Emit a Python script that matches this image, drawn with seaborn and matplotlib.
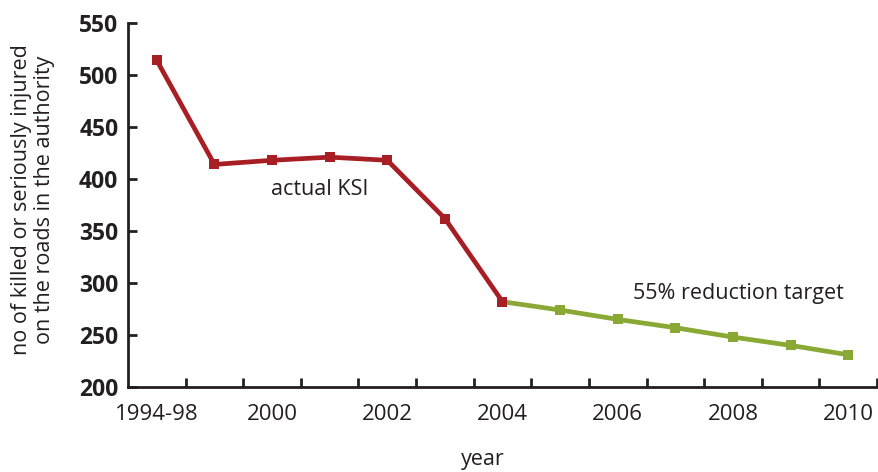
import matplotlib
matplotlib.use("Agg")
import matplotlib.pyplot as plt
import seaborn as sns
import pandas as pd
from matplotlib.ticker import FixedLocator

sns.set_theme(style="white")
plt.rcParams['font.family'] = ['Open Sans', 'DejaVu Sans']

categories = ["1994-98", "1999", "2000", "2001", "2002", "2003", "2004",
              "2005", "2006", "2007", "2008", "2009", "2010"]
actual_cats = ["1994-98", "1999", "2000", "2001", "2002", "2003", "2004"]
actual_vals = [514, 414, 418, 421, 418, 362, 282]
target_cats = ["2004", "2005", "2006", "2007", "2008", "2009", "2010"]
target_vals = [282, 274, 265, 257, 248, 240, 231]
shown_labels = ["1994-98", "2000", "2002", "2004", "2006", "2008", "2010"]
yticks = [200, 250, 300, 350, 400, 450, 500, 550]

RED = "#a81e25"
GREEN = "#8aa834"
INK = "#231f20"

pos = {c: i for i, c in enumerate(categories)}
df_a = pd.DataFrame({"x": [pos[c] for c in actual_cats], "y": actual_vals})
df_t = pd.DataFrame({"x": [pos[c] for c in target_cats], "y": target_vals})

fig = plt.figure(figsize=(8.79, 4.72), dpi=100)
ax = fig.add_axes([128/879, 1-387/472, (877-128)/879, (387-23)/472])

sns.lineplot(data=df_t, x="x", y="y", ax=ax, color=GREEN, linewidth=3.4,
             marker="s", markersize=7.5, markeredgewidth=0, zorder=2)
sns.lineplot(data=df_a, x="x", y="y", ax=ax, color=RED, linewidth=3.4,
             marker="s", markersize=7.5, markeredgewidth=0, zorder=3)

ax.set_xlim(-0.5, len(categories) - 0.5)
ax.set_ylim(200, 550)
ax.set_yticks(yticks)
ax.set_yticklabels([str(v) for v in yticks], fontweight="bold", fontsize=16.5, color=INK)

major = [pos[c] for c in shown_labels]
ax.set_xticks(major)
ax.set_xticklabels(shown_labels, fontsize=16, color=INK)
ax.xaxis.set_minor_locator(FixedLocator([i + 0.5 for i in range(len(categories))]))
ax.tick_params(axis="x", which="major", length=0, pad=12)
ax.tick_params(axis="x", which="minor", direction="in", length=6.5, width=2, color=INK, bottom=True)
ax.tick_params(axis="y", which="major", direction="in", length=6.5, width=2, color=INK, pad=7, left=True)

for s in ["top", "right"]:
    ax.spines[s].set_visible(False)
for s in ["left", "bottom"]:
    ax.spines[s].set_color(INK)
    ax.spines[s].set_linewidth(2)

ax.set_xlabel("")
ax.set_ylabel("")
ax.grid(False)

ax.text(2.83, 390, "actual KSI", ha="center", va="center", fontsize=15.5, color=INK)
ax.text(10.1, 290, "55% reduction target", ha="center", va="center", fontsize=15.5, color=INK)

fig.text(483/879, 1-460/472, "year", ha="center", va="center", fontsize=15.5, color=INK)
fig.text(33/879, 1-200/472, "no of killed or seriously injured\non the roads in the authority",
         ha="center", va="center", rotation=90, fontsize=15.5, color=INK, linespacing=1.1)

fig.savefig("out.png", dpi=100)
